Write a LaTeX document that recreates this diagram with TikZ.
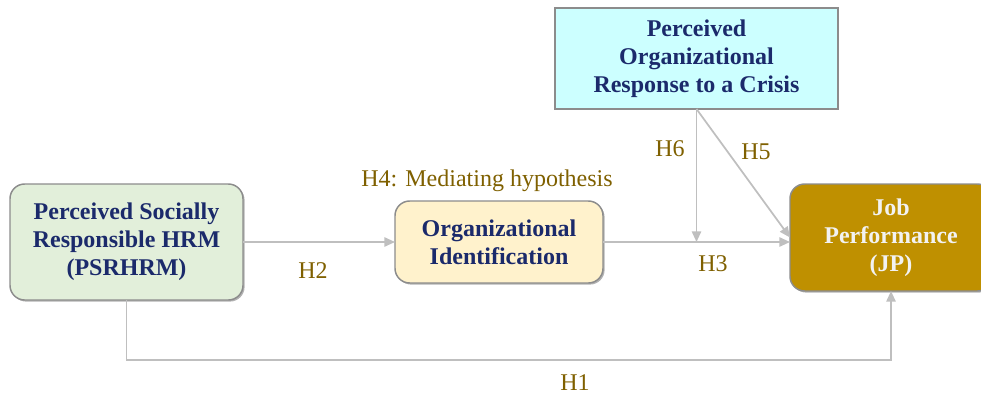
\documentclass[tikz,border=0pt]{standalone}
\usepackage{fontspec}
\setmainfont{Liberation Serif}
\usepackage{tikz}
\usetikzlibrary{arrows.meta,shadows}
\definecolor{boxtext}{HTML}{1B2A6B}
\definecolor{hypcolor}{HTML}{7F6000}
\definecolor{linegray}{HTML}{BFBFBF}
\definecolor{bordergray}{HTML}{8C8C8C}
\definecolor{greenfill}{HTML}{E2EFDA}
\definecolor{yellowfill}{HTML}{FFF2CC}
\definecolor{cyanfill}{HTML}{CCFFFF}
\definecolor{goldfill}{HTML}{BF9000}
\tikzstyle{construct} = [draw=bordergray, line width=1.1pt, inner sep=0pt, outer sep=0pt, align=center, font=\fontsize{18}{21}\selectfont\bfseries, text=boxtext]
\tikzstyle{roundbox} = [construct, rounded corners=11pt, drop shadow={shadow xshift=1.2pt, shadow yshift=-1.2pt, fill=black, opacity=0.3}]
\tikzstyle{arrow} = [draw=linegray, line width=1.3pt, -{Triangle[length=8pt,width=7pt]}]
\tikzstyle{hyp} = [text=hypcolor, inner sep=1pt, font=\fontsize{18}{21}\selectfont]

\begin{document}
\begin{tikzpicture}[x=0.75pt, y=-0.75pt]
\useasboundingbox (0,0) rectangle (981,396);

\node[roundbox, fill=greenfill, minimum width=174.75pt, minimum height=87pt] at (126.5, 242) (psrhrm) {Perceived Socially\\Responsible HRM\\(PSRHRM)};
\node[roundbox, fill=yellowfill, minimum width=156pt, minimum height=61.5pt] at (499, 242) (orgid) {Organizational\\Identification};
\node[construct, fill=cyanfill, minimum width=212.25pt, minimum height=75.75pt] at (696.5, 58.5) (crisis) {Perceived\\Organizational\\Response to a Crisis};
\node[roundbox, fill=goldfill, text=white!95!black, minimum width=151.5pt, minimum height=80.25pt] at (891, 237.5) (jp) {Job\\Performance\\(JP)};

\path[arrow] (psrhrm.east) -- (orgid.west);
\path[arrow] (orgid.east) -- (orgid.east -| jp.west);
\path[arrow] (crisis.south) -- (crisis.south |- orgid.east);
\path[arrow] (crisis.south) -- (jp.west);
\path[arrow] (psrhrm.south) -- ++(0,60) -| (jp.south);

\node[hyp] at (487, 181) (h4) {H4: Mediating hypothesis};
\node[hyp] at (313, 271) (h2) {H2};
\node[hyp] at (713, 264) (h3) {H3};
\node[hyp] at (670, 149) (h6) {H6};
\node[hyp] at (756, 152) (h5) {H5};
\node[hyp] at (575, 383) (h1) {H1};
\end{tikzpicture}
\end{document}
